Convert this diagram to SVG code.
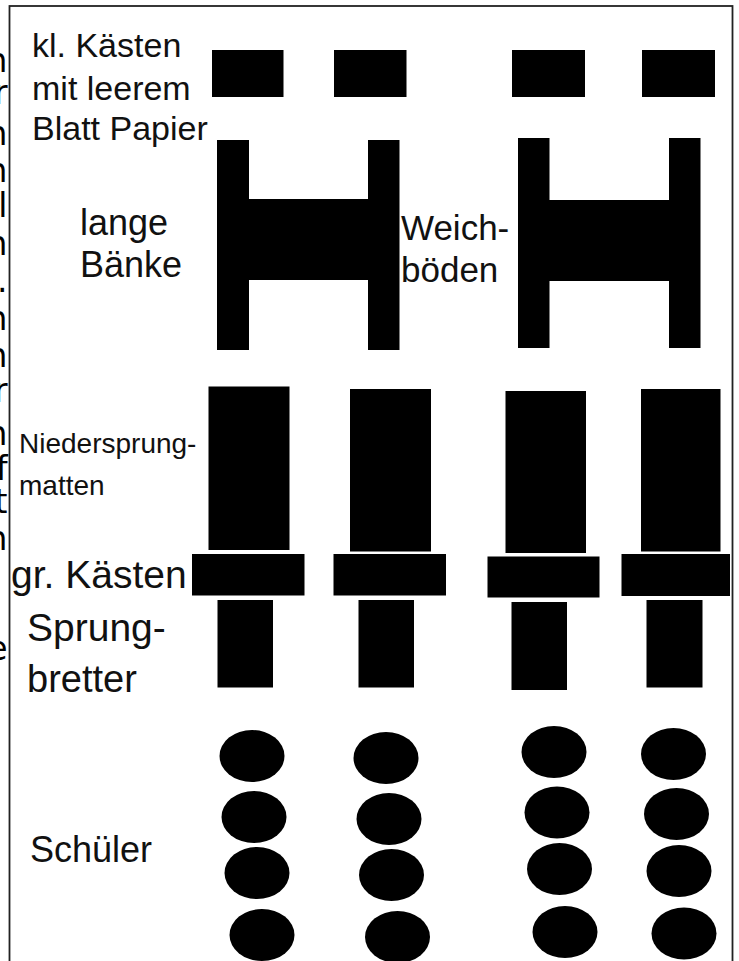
<svg xmlns="http://www.w3.org/2000/svg" width="739" height="961" viewBox="0 0 739 961">
<style>
.t{font-family:"Liberation Sans",Arial,sans-serif;fill:#111}
.e{font-family:"DejaVu Sans","Liberation Sans",sans-serif;font-size:33px;fill:#000;text-anchor:end}
.b{fill:#000}
</style>
<rect width="739" height="961" fill="#fff"/>
<g id="edge-text">
<text class="e" x="7.5" y="72">n</text>
<text class="e" x="7.5" y="104">r</text>
<text class="e" x="7.5" y="145">n</text>
<text class="e" x="7.5" y="182">n</text>
<text class="e" x="7.5" y="217">l</text>
<text class="e" x="7.5" y="255">n</text>
<text class="e" x="7.5" y="292">.</text>
<text class="e" x="7.5" y="330">n</text>
<text class="e" x="7.5" y="367">n</text>
<text class="e" x="7.5" y="402">r</text>
<text class="e" x="7.5" y="445">n</text>
<text class="e" x="7.5" y="480">f</text>
<text class="e" x="7.5" y="513">t</text>
<text class="e" x="7.5" y="550">n</text>
<text class="e" x="7.5" y="660">e</text>
</g>
<rect id="frame" x="9.5" y="6" width="723" height="970" fill="none" stroke="#222" stroke-width="1.8"/>
<g id="labels">
<text class="t" font-size="34" x="32" y="57">kl. Kästen</text>
<text class="t" font-size="34" x="32" y="100">mit leerem</text>
<text class="t" font-size="34" x="32" y="140">Blatt Papier</text>
<text class="t" font-size="36" x="80" y="235">lange</text>
<text class="t" font-size="36" x="80" y="277">Bänke</text>
<text class="t" font-size="35" x="401" y="240">Weich-</text>
<text class="t" font-size="35" x="401" y="282">böden</text>
<text class="t" font-size="28" x="19" y="453">Niedersprung-</text>
<text class="t" font-size="28" x="19" y="495">matten</text>
<text class="t" font-size="39" x="11" y="588">gr. Kästen</text>
<text class="t" font-size="39" x="27" y="641">Sprung-</text>
<text class="t" font-size="38" x="27" y="692">bretter</text>
<text class="t" font-size="36" x="30" y="862">Schüler</text>
</g>
<g id="kl-kaesten" class="b">
<rect x="212" y="50" width="71.5" height="47"/>
<rect x="334" y="50" width="72.5" height="47"/>
<rect x="512" y="50" width="73" height="47"/>
<rect x="642" y="50" width="73" height="47"/>
</g>
<g id="baenke-1" class="b">
<rect x="217" y="140" width="32" height="210"/>
<rect x="368" y="140" width="31.5" height="210"/>
<rect x="248" y="199" width="121" height="81"/>
</g>
<g id="baenke-2" class="b">
<rect x="518" y="138" width="31.5" height="210"/>
<rect x="669" y="138" width="31.5" height="210"/>
<rect x="549" y="200" width="121" height="81"/>
</g>
<g id="niedersprungmatten" class="b">
<rect x="208.5" y="386.5" width="81" height="163.5"/>
<rect x="350" y="389" width="81" height="162.5"/>
<rect x="505.5" y="391" width="80.5" height="162"/>
<rect x="641" y="389" width="79.5" height="162.5"/>
</g>
<g id="gr-kaesten" class="b">
<rect x="192" y="554" width="112.5" height="41.5"/>
<rect x="333.5" y="554" width="112.5" height="41.5"/>
<rect x="487.5" y="556.5" width="112" height="41"/>
<rect x="621.5" y="554" width="108.5" height="42"/>
</g>
<g id="sprungbretter" class="b">
<rect x="217.5" y="600" width="55.5" height="87.5"/>
<rect x="358.5" y="600" width="55.5" height="87.5"/>
<rect x="511.5" y="602" width="55.5" height="88"/>
<rect x="646.5" y="600" width="56" height="87.5"/>
</g>
<g id="schueler" class="b">
<ellipse cx="252" cy="756" rx="32.5" ry="26"/>
<ellipse cx="254" cy="817" rx="32.5" ry="26"/>
<ellipse cx="257" cy="873" rx="32.5" ry="26"/>
<ellipse cx="262" cy="935" rx="32.5" ry="26"/>
<ellipse cx="386" cy="758" rx="32.5" ry="26"/>
<ellipse cx="389" cy="819" rx="32.5" ry="26"/>
<ellipse cx="391.5" cy="875" rx="32.5" ry="26"/>
<ellipse cx="397.5" cy="937" rx="32.5" ry="26"/>
<ellipse cx="554" cy="752" rx="32.5" ry="26"/>
<ellipse cx="557" cy="812.5" rx="32.5" ry="26"/>
<ellipse cx="559.5" cy="869" rx="32.5" ry="26"/>
<ellipse cx="565" cy="932" rx="32.5" ry="26"/>
<ellipse cx="673.5" cy="754" rx="32.5" ry="26"/>
<ellipse cx="676.5" cy="814" rx="32.5" ry="26"/>
<ellipse cx="679" cy="871" rx="32.5" ry="26"/>
<ellipse cx="684" cy="933.5" rx="32.5" ry="26"/>
</g>
</svg>
